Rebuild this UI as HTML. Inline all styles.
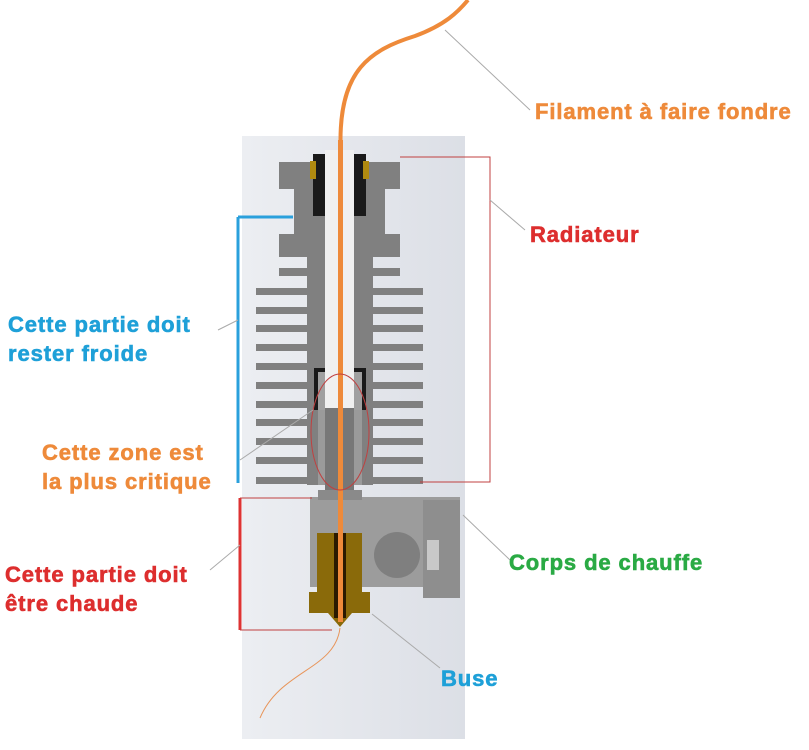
<!DOCTYPE html><html><head><style>
body{margin:0;background:#fff;width:809px;height:750px;overflow:hidden;position:relative;font-family:"Liberation Sans",sans-serif;font-weight:bold}
.t{position:absolute;font-size:22px;line-height:29px;letter-spacing:0.9px;white-space:nowrap;-webkit-text-stroke:0.6px currentColor}
</style></head><body>
<svg width="809" height="750" style="position:absolute;left:0;top:0">
<defs><linearGradient id="bg" x1="0" x2="1"><stop offset="0" stop-color="#eceef2"/><stop offset="1" stop-color="#dcdfe6"/></linearGradient></defs>
<rect x="242" y="136" width="223" height="603" fill="url(#bg)"/>
<g fill="#808080">
<rect x="279" y="162" width="121" height="27"/>
<rect x="294" y="189" width="91" height="45"/>
<rect x="279" y="234" width="121" height="23"/>
<rect x="307" y="257" width="66" height="228"/>
<rect x="279" y="268" width="121" height="8"/>
<rect x="256" y="288" width="167" height="7"/><rect x="256" y="307" width="167" height="7"/><rect x="256" y="325" width="167" height="7"/><rect x="256" y="344" width="167" height="7"/><rect x="256" y="363" width="167" height="7"/><rect x="256" y="382" width="167" height="7"/><rect x="256" y="401" width="167" height="7"/><rect x="256" y="419" width="167" height="7"/><rect x="256" y="438" width="167" height="7"/><rect x="256" y="457" width="167" height="7"/><rect x="256" y="477" width="167" height="7"/>
</g>
<rect x="313" y="154" width="12" height="62" fill="#1a1a1a"/><rect x="354" y="154" width="12" height="62" fill="#1a1a1a"/>
<rect x="310" y="161" width="6" height="18" fill="#b08a10"/><rect x="363" y="161" width="6" height="18" fill="#b08a10"/>
<rect x="314" y="368" width="52" height="42" fill="#1a1a1a"/>
<rect x="318" y="372" width="44" height="38" fill="#a0a0a0"/>
<rect x="325" y="150" width="29" height="258" fill="#f0f0f0"/>
<rect x="318" y="410" width="44" height="75" fill="#9a9a9a"/>
<rect x="325" y="408" width="29" height="90" fill="#777"/>
<path d="M310 497H460V598H423V587H310Z" fill="#9c9c9c"/>
<rect x="423" y="500" width="37" height="98" fill="#8e8e8e"/>
<rect x="427" y="540" width="12" height="30" fill="#c8c8c8"/>
<circle cx="397" cy="555" r="23" fill="#7f7f7f"/>
<rect x="318" y="490" width="44" height="10" fill="#8a8a8a"/>
<path d="M317 533H362V592H370V613H352L340 627L328 613H309V592H317Z" fill="#8a6a0a"/>
<rect x="334" y="533" width="12" height="85" fill="#2a1a00"/>
<rect x="338" y="140" width="5" height="482" fill="#ee8a3a"/>
<path d="M340.5 142 C340 70,370 50,415 36 C445 25,458 12,468 0" fill="none" stroke="#ee8a3a" stroke-width="4"/>
<path d="M340 628 C335 670,280 670,260 718" fill="none" stroke="#e8955a" stroke-width="1"/>
<ellipse cx="340" cy="432" rx="29" ry="58" fill="none" stroke="#c04040" stroke-width="1"/>
<path d="M238 217V483M238 217H293" stroke="#2aa0dc" fill="none" stroke-width="3"/>
<path d="M240 498V630" stroke="#dd3333" stroke-width="3"/>
<path d="M240 498H312M240 630H332M400 157H490V482H420" stroke="#c04040" fill="none" stroke-width="1"/>
<path d="M490 200L525 230M445 30L530 110M463 515L510 560M372 614L440 668M313 410L240 460M238 320L218 330M240 545L210 570" stroke="#aaa" stroke-width="1" fill="none"/>
</svg>
<div class="t" style="left:535px;top:97px;color:#ee8a3a">Filament à faire fondre</div>
<div class="t" style="left:530px;top:220px;color:#dd2e2e">Radiateur</div>
<div class="t" style="left:8px;top:310px;color:#1ea0d8">Cette partie doit<br>rester froide</div>
<div class="t" style="left:42px;top:438px;color:#ee8a3a">Cette zone est<br>la plus critique</div>
<div class="t" style="left:5px;top:560px;color:#dd2e2e">Cette partie doit<br>être chaude</div>
<div class="t" style="left:509px;top:548px;color:#2aaa44">Corps de chauffe</div>
<div class="t" style="left:441px;top:664px;color:#1ea0d8">Buse</div>
</body></html>
